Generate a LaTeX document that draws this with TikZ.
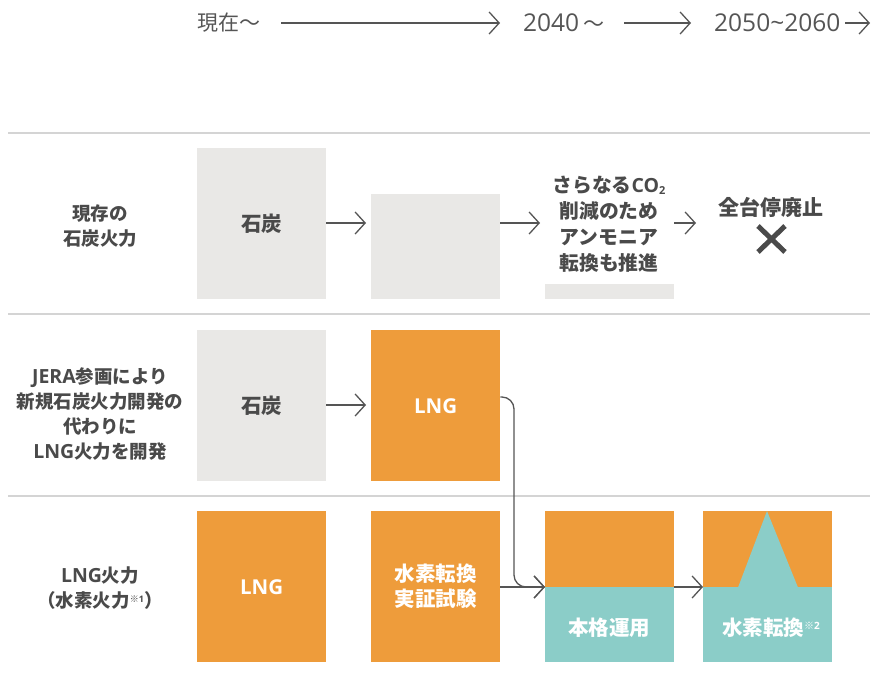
\documentclass[tikz,border=0pt]{standalone}
\usepackage{fontspec}
\setmainfont{Noto Sans CJK JP}
\newfontfamily\lat{Open Sans}
\usetikzlibrary{arrows.meta}
\definecolor{orng}{HTML}{EE9C3B}
\definecolor{tealc}{HTML}{8BCDC8}
\definecolor{grayb}{HTML}{E9E8E6}
\definecolor{txt}{HTML}{4A4A4A}
\definecolor{sep}{HTML}{D4D4D4}
\definecolor{arr}{HTML}{555555}
\newcommand\lt[2]{{\lat\fontsize{#1}{#1}\selectfont #2}}
\tikzset{
  box/.style={anchor=north west, inner sep=0pt, minimum width=129pt},
  graybox/.style={box, fill=grayb},
  orbox/.style={box, fill=orng},
  tlbox/.style={box, fill=tealc},
  conn/.style={draw=arr, line width=1.3pt, -{Straight Barb[length=10pt,width=22pt,line width=1.3pt]}},
  sepline/.style={draw=sep, line width=1.2pt},
  lbl/.style={text=txt, font=\fontsize{18.5}{25}\selectfont\bfseries, align=center},
  inlbl/.style={font=\fontsize{20.5}{25}\selectfont\bfseries, align=center},
  toptxt/.style={text=arr, font=\fontsize{21}{25}\selectfont, anchor=west, inner sep=0pt},
}
\begin{document}
\begin{tikzpicture}[x=1pt,y=-1pt]
\useasboundingbox (0,0) rectangle (873,674);
% timeline
\node[toptxt] (t1) at (197,23) {現在～};
\node[toptxt] (t2) at (523,23) {\lt{24.5}{2040} ～};
\node[toptxt] (t3) at (714,23) {\lt{24.5}{2050\char"7E 2060}};
\coordinate (t3e) at (870,23);
\draw[conn] (281,23) -- (500,23);
\draw[conn] (624,23) -- (691,23);
\draw[conn] (845,23) -- (t3e);
% separators
\draw[sepline] (8,133) -- (870,133);
\draw[sepline] (8,314) -- (870,314);
\draw[sepline] (8,496) -- (870,496);
% row labels
\node[lbl] (r1) at (100,226) {現存の\\石炭火力};
\node[lbl] (r2) at (100,414) {\lt{19.5}{JERA}参画により\\新規石炭火力開発の\\代わりに\\\lt{19.5}{LNG}火力を開発};
\node[lbl] (r3) at (100,588) {\lt{19.5}{LNG}火力\\（水素火力{\fontsize{9}{9}\selectfont\raisebox{5pt}{※\lt{9}{1}}}）};
% row 1
\node[graybox, minimum height=151pt] (a1) at (197,148) {};
\node[inlbl, text=txt] at (a1.center) {石炭};
\node[graybox, minimum height=105pt] (a2) at (371,194) {};
\node[graybox, minimum height=15pt] (a3) at (545,284) {};
\node[inlbl, text=txt, font=\fontsize{19.8}{26}\selectfont\bfseries] (a3t) at (609,224) {さらなる\lt{19.5}{CO}{\lat\fontsize{11}{11}\selectfont\raisebox{-2pt}{2}}\\削減のため\\アンモニア\\転換も推進};
\node[inlbl, text=txt, font=\fontsize{21}{26}\selectfont\bfseries] (a4) at (771,207) {全台停廃止};
\draw[txt, line width=5pt] (758,226) -- (785,252) (758,252) -- (785,226);
\draw[conn] (326,223) -- (366,223);
\draw[conn] (500,223) -- (540,223);
\draw[conn] (674,223) -- (696,223);
% row 2
\node[graybox, minimum height=151pt] (b1) at (197,330) {};
\node[inlbl, text=txt] at (b1.center) {石炭};
\node[orbox, minimum height=151pt] (b2) at (371,330) {};
\node[inlbl, text=white] at (b2.center) {\lt{20.5}{LNG}};
\draw[conn] (326,405) -- (366,405);
% row 3
\node[orbox, minimum height=151pt] (c1) at (197,511) {};
\node[inlbl, text=white] at (c1.center) {\lt{20.5}{LNG}};
\node[orbox, minimum height=151pt] (c2) at (371,511) {};
\node[inlbl, text=white] at (c2.center) {水素転換\\実証試験};
\node[orbox, minimum height=76pt] (c3o) at (545,511) {};
\node[tlbox, minimum height=75pt] (c3) at (545,587) {};
\node[inlbl, text=white] at (609,628) {本格運用};
\node[orbox, minimum height=76pt] (c4o) at (703,511) {};
\node[tlbox, minimum height=75pt] (c4) at (703,587) {};
\fill[tealc] (738,587.5) -- (767,511) -- (798,587.5) -- cycle;
\node[inlbl, text=white] at (771,628) {水素転換{\fontsize{10}{10}\selectfont\raisebox{6pt}{※\lt{10}{2}}}};
\draw[conn] (c2.east |- c3.north west) -- (c3.north west);
\draw[conn] (c3.north east) -- (c4.north west);
\draw[conn, rounded corners=12pt] (b2.north east |- 0,397) -- (514,397) -- (514,587) -- (c3.north west);
\end{tikzpicture}
\end{document}
